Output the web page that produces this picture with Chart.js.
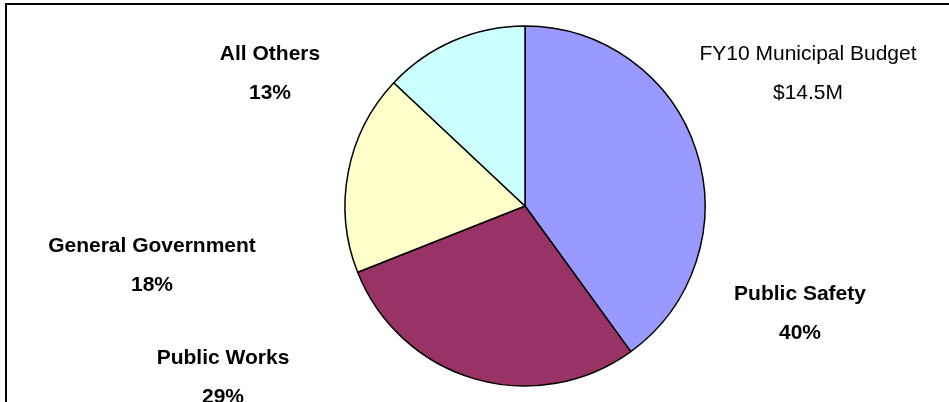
<!DOCTYPE html>
<html>
<head>
<meta charset="utf-8">
<title>FY10 Municipal Budget</title>
<script src="https://cdn.jsdelivr.net/npm/chart.js@4.4.1/dist/chart.umd.min.js"></script>
<style>
    html, body { margin: 0; padding: 0; background: #fff; }
    #budgetChart { display: block; }
</style>
</head>
<body>
<canvas id="budgetChart" width="949" height="402"></canvas>
<script>
// Budget shares, percent of total
const categories = ["Public Safety", "Public Works", "General Government", "All Others"];
const shares = [40, 29, 18, 13];
const sliceColors = ["#9999FF", "#993366", "#FFFFCC", "#CCFFFF"];
const titleLines = ["FY10 Municipal Budget", "$14.5M"];

// Where each category label sits (centre x, first baseline y)
const labelSpots = [[800, 300], [223, 364], [152, 252], [270, 60]];
const titleSpot = [808, 60];
const lineGap = 39;

// Outer frame, only top and left edges fall inside the canvas
const framePlugin = {
    id: "frame",
    beforeDraw(chart) {
        const ctx = chart.ctx;
        ctx.save();
        ctx.strokeStyle = "#000";
        ctx.lineWidth = 2;
        ctx.beginPath();
        ctx.moveTo(6, chart.height + 5);
        ctx.lineTo(6, 4);
        ctx.lineTo(chart.width + 5, 4);
        ctx.stroke();
        ctx.restore();
    }
};

// Category name with its share underneath, plus the title block
const labelPlugin = {
    id: "sliceLabels",
    afterDraw(chart) {
        const ctx = chart.ctx;
        const values = chart.data.datasets[0].data;
        const total = values.reduce((a, b) => a + b, 0);
        ctx.save();
        ctx.fillStyle = "#000";
        ctx.textAlign = "center";
        ctx.textBaseline = "alphabetic";

        ctx.font = "bold 21px 'Liberation Sans', Arial, sans-serif";
        chart.data.labels.forEach((name, i) => {
            const [x, y] = labelSpots[i];
            const pct = Math.round(values[i] / total * 100) + "%";
            ctx.fillText(name, x, y);
            ctx.fillText(pct, x, y + lineGap);
        });

        ctx.font = "21px 'Liberation Sans', Arial, sans-serif";
        titleLines.forEach((line, i) => {
            ctx.fillText(line, titleSpot[0], titleSpot[1] + i * lineGap);
        });
        ctx.restore();
    }
};

new Chart(document.getElementById("budgetChart").getContext("2d"), {
    type: "pie",
    data: {
        labels: categories,
        datasets: [{
            data: shares,
            backgroundColor: sliceColors,
            borderColor: "#000",
            borderWidth: 1.5
        }]
    },
    options: {
        responsive: false,
        devicePixelRatio: 1,
        animation: false,
        radius: 180,
        layout: { padding: { left: 101, top: 10 } },
        plugins: {
            legend: { display: false },
            tooltip: { enabled: false }
        }
    },
    plugins: [framePlugin, labelPlugin]
});
</script>
</body>
</html>
